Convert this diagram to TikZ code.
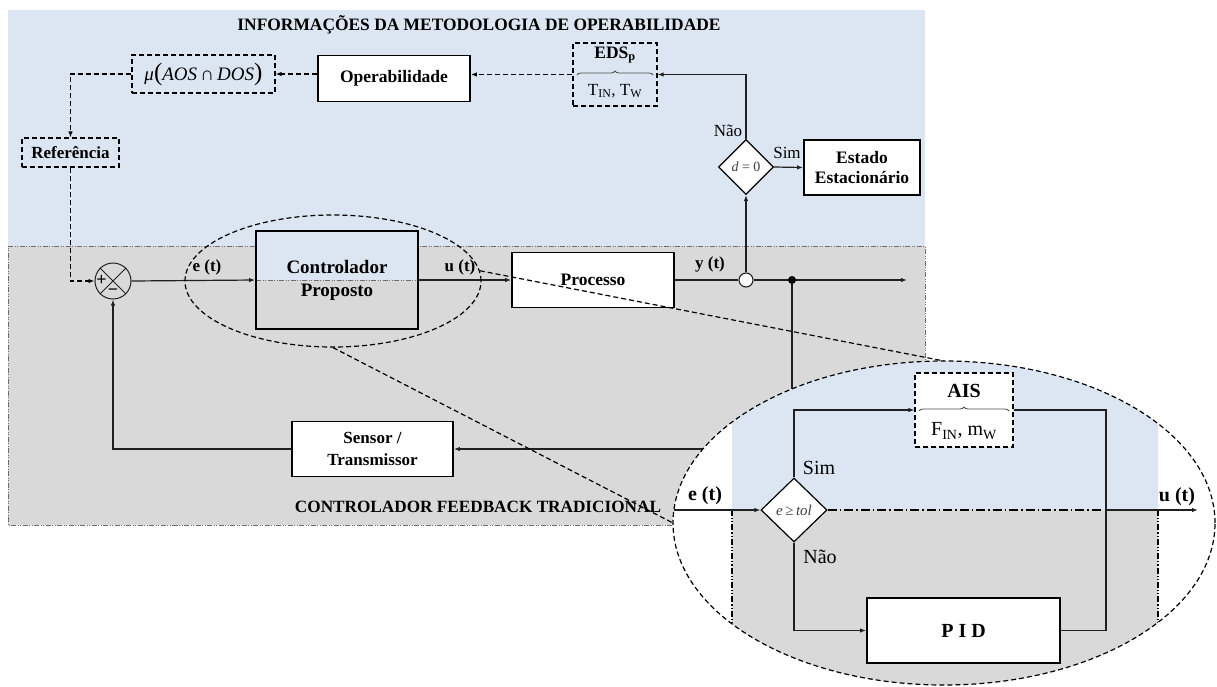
\documentclass[tikz,border=0pt]{standalone}
\usepackage{fontspec}
\setmainfont{Liberation Serif}
\usetikzlibrary{arrows.meta,shapes.geometric,decorations.pathreplacing,calc}

\definecolor{opblue}{HTML}{DCE6F2}
\definecolor{fbgray}{HTML}{D9D9D9}
\definecolor{wirecol}{HTML}{202020}
\definecolor{zonecol}{HTML}{6E6E6E}
\newcommand\fsz[2]{\fontsize{#1}{#2}\selectfont}

\begin{document}
\begin{tikzpicture}[x=1pt,y=-1pt,
  every node/.style={text=black},
  block/.style={draw=black, line width=1.8pt, fill=white, align=center, inner sep=0pt,
                font=\bfseries\fsz{17.5}{21}},
  dbox/.style={draw=black, line width=1.2pt, dash pattern=on 5pt off 3pt, align=center, inner sep=0pt},
  wire/.style={line width=1.2pt, draw=wirecol},
  arr/.style={wire, -{Latex[length=6pt,width=4.5pt]}},
  dwire/.style={line width=1.2pt, draw=black, dash pattern=on 5pt off 3pt},
  darr/.style={dwire, -{Latex[length=6pt,width=4.5pt]}},
  zone/.style={draw=zonecol, line width=0.6pt,
               dash pattern=on 5pt off 1.5pt on 1pt off 1.5pt on 1pt off 1.5pt},
  zonebold/.style={draw=black, line width=1.1pt,
               dash pattern=on 6pt off 2pt on 1.2pt off 2pt on 1.2pt off 2pt},
  split/.style={draw=black, line width=1.5pt, dash pattern=on 9pt off 3pt on 1.5pt off 3pt},
  decision/.style={shape=diamond, draw=black, line width=1.2pt, fill=white, inner sep=0pt, aspect=1},
  sig/.style={font=\bfseries\fsz{17}{19}},
  bigsig/.style={font=\bfseries\fsz{20}{22}},
  note/.style={font=\fsz{17}{19}},
  bignote/.style={font=\fsz{20}{22}},
  brc/.style={decorate, decoration={brace, amplitude=4pt}, draw=gray!60!black, line width=0.8pt},
]
\useasboundingbox[fill=white] (0,0) rectangle (1217,686);

% ---------- zones ----------
\fill[opblue] (8,10) rectangle (925,246);
\fill[fbgray] (8,246) rectangle (925,525);
\draw[zone] (8,246) -- (925,246) -- (925,525) -- (8,525) -- cycle;

\node[font=\bfseries\fsz{17.4}{20}] (title) at (479,25) {INFORMAÇÕES DA METODOLOGIA DE OPERABILIDADE};
\node[font=\bfseries\fsz{17.2}{20}] (fbtitle) at (478,507) {CONTROLADOR FEEDBACK TRADICIONAL};

% ---------- operability chain ----------
\node[dbox, minimum width=143, minimum height=38, font=\fsz{19}{22}] (mu) at (203.5,74)
  {\textit{μ}{\fsz{25}{25}(}\textit{AOS}\,∩\,\textit{DOS}{\fsz{25}{25})}};
\node[block, minimum width=152, minimum height=46] (oper) at (394,78.5) {Operabilidade};
\node[dbox, minimum width=84, minimum height=63] (eds) at (615,74.5) {};
\node[font=\bfseries\fsz{17.5}{20}] (edsname) at (615,55) {EDS\textsubscript{p}};
\draw[brc] (577,75) -- (653,75);
\node[font=\fsz{17}{20}] (edsvars) at (615,91) {T\textsubscript{IN}, T\textsubscript{W}};

\node[dbox, minimum width=97, minimum height=29, font=\bfseries\fsz{17}{20}] (ref) at (70.5,152.5) {Referência};

\node[decision, minimum width=55, minimum height=55, font=\fsz{14}{16}] (dz) at (746,167)
  {\textcolor{darkgray}{\textit{d} = 0}};
\node[block, minimum width=116, minimum height=55, font=\bfseries\fsz{17.5}{20}] (ss) at (862,167.5)
  {Estado\\Estacionário};
\node[note] (no1) at (728,131) {Não};
\node[note] (yes1) at (787,153) {Sim};

% ---------- feedback loop ----------
\node[circle, draw=wirecol, line width=1pt, minimum size=36, inner sep=0pt] (sum) at (113,281) {};
\draw[wirecol, line width=1pt] (sum.north west) -- (sum.south east) (sum.north east) -- (sum.south west);
\node[font=\bfseries\fsz{18}{18}, inner sep=0pt] (plus) at (101.5,280) {+};
\node[font=\bfseries\fsz{18}{18}, inner sep=0pt] (minus) at (113,292) {−};

\node[block, fill=none, minimum width=162, minimum height=98, font=\bfseries\fsz{19}{22},
  path picture={
    \fill[opblue] (path picture bounding box.north west) rectangle (path picture bounding box.east);
    \fill[fbgray] (path picture bounding box.west) rectangle (path picture bounding box.south east);
    \draw[zone] (path picture bounding box.west) -- (path picture bounding box.east);
  }] (ctrl) at (337,280) {Controlador\\[1pt]Proposto};
\node[block, minimum width=162, minimum height=55] (proc) at (593,280) {Processo};
\node[block, minimum width=161, minimum height=55, font=\bfseries\fsz{17}{22}] (sens) at (372.5,449)
  {Sensor /\\Transmissor};

\node[circle, draw=wirecol, fill=white, line width=1.1pt, minimum size=14, inner sep=0pt] (yj) at (746,280) {};
\coordinate (tapc) at (792,280);
\coordinate (yout) at (907,280);

\draw[darr] (eds.west) -- (oper.east |- eds.west);
\draw[darr] (oper.west |- mu.east) -- (mu.east);
\draw[darr] (mu.west) -| (ref.north);
\draw[darr] (ref.south) |- (sum.west);
\draw[arr] (dz.north) |- (eds.east);
\draw[arr] (dz.east) -- (ss.west);
\draw[arr] (yj.north) -- (dz.south);

\draw[arr] (sum.east) -- (ctrl.west);
\draw[arr] (ctrl.east) -- (proc.west);
\draw[wire] (proc.east) -- (yj.west);
\draw[arr] (yj.east) -- (yout);
\draw[arr] (tapc) |- (sens.east);
\draw[arr] (sens.west) -| (sum.south);
\node[circle, fill=black, minimum size=8, inner sep=0pt] (tap) at (tapc) {};

\node[sig] (elab) at (207,267) {e (t)};
\node[sig] (ulab) at (460,267) {u (t)};
\node[sig] (ylab) at (710,264) {y (t)};

% ---------- zoom of the proposed controller ----------
\node[ellipse, dwire, minimum width=296, minimum height=132, inner sep=0pt] (zsrc) at (333,281) {};
\draw[dwire] (zsrc.4) -- (944,361);
\draw[dwire] (zsrc.south) -- (673,523);

\fill[white] (944,523) ellipse [x radius=271pt, y radius=162pt];
\begin{scope}
  \clip (944,523) ellipse [x radius=271pt, y radius=162pt];
  \fill[opblue] (732,350) rectangle (1158,510);
  \fill[fbgray] (732,510) rectangle (1158,690);
  \draw[zonebold] (732,510) -- (732,690);
  \draw[zonebold] (1158,510) -- (1158,690);
\end{scope}
\node[ellipse, dwire, minimum width=542, minimum height=324, inner sep=0pt] (zview) at (944,523) {};

\coordinate (ein) at (674,510);
\coordinate (merge) at (1106,510);
\coordinate (uout) at (1198,510);

\node[decision, minimum width=66, minimum height=64, font=\fsz{15}{17}] (tol) at (794,510)
  {\textcolor{darkgray}{\textit{e}\,≥\,\textit{tol}}};
\node[dbox, fill=white, minimum width=98, minimum height=74] (ais) at (964,410) {};
\node[font=\bfseries\fsz{20}{22}] (aisname) at (964,391) {AIS};
\draw[brc] (919,411) -- (1009,411);
\node[font=\fsz{20}{22}] (aisvars) at (964,431) {F\textsubscript{IN}, m\textsubscript{W}};
\node[block, minimum width=193, minimum height=65, font=\bfseries\fsz{20}{22}] (pid) at (963.5,630.5) {P I D};

\draw[arr] (ein) -- (tol.west);
\draw[arr] (tol.north) |- (ais.west);
\draw[arr] (tol.south) |- (pid.west);
\draw[wire] (ais.east) -| (merge) |- (pid.east);
\draw[split] (tol.east) -- ($(merge)+(-4,0)$);
\draw[arr] (merge) -- (uout);

\node[bigsig] (ein lab) at (705,496) {e (t)};
\node[bigsig] (uout lab) at (1177,497) {u (t)};
\node[bignote] (yes2) at (819,468) {Sim};
\node[bignote] (no2) at (820,557) {Não};

\end{tikzpicture}
\end{document}
